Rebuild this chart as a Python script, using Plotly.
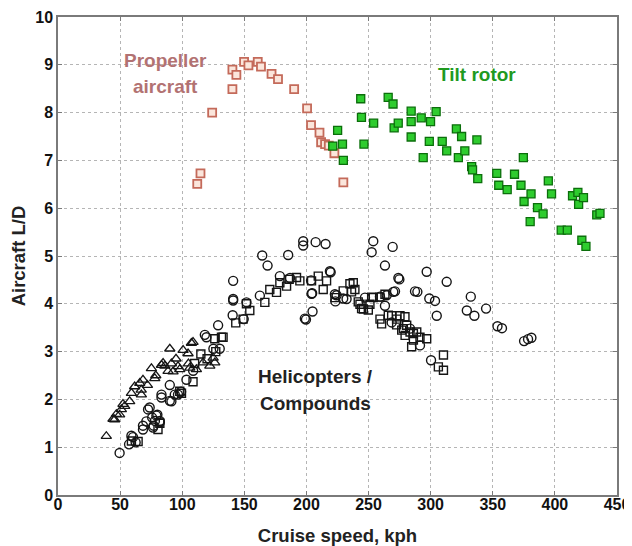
import plotly.graph_objects as go

# Propeller aircraft
prop_x = [112.1, 114.7, 124.1, 140.4, 143.6, 140.4, 149.8, 153.3, 160.8, 163.4, 171.9, 177.1,
          190.1, 200.5, 203.7, 210.5, 211.8, 215.0, 218.0, 222.5, 229.7]
prop_y = [6.51, 6.73, 8.00, 8.90, 8.79, 8.49, 9.06, 8.99, 9.06, 8.96, 8.81, 8.70,
          8.49, 8.09, 7.74, 7.58, 7.38, 7.34, 7.31, 7.15, 6.54]

# Tilt rotor
tilt_x = [221.2, 225.1, 229.0, 229.7, 243.7, 244.3, 246.3, 254.1, 265.8, 269.7, 270.6, 273.9,
          284.3, 284.3, 284.3, 292.4, 294.0, 299.9, 304.4, 298.9, 309.3, 312.9, 320.7, 324.9,
          322.3, 327.5, 337.2, 333.0, 333.7, 337.9, 353.2, 354.8, 361.6, 367.5, 374.6, 372.7,
          375.2, 380.8, 380.1, 386.0, 390.5, 394.7, 397.3, 405.1, 410.0, 414.2, 418.5, 419.1,
          423.0, 421.7, 425.0, 433.7, 436.3]
tilt_y = [7.30, 7.63, 7.34, 7.00, 8.29, 7.90, 7.34, 7.78, 8.32, 8.18, 7.68, 7.78,
          8.03, 7.81, 7.49, 7.89, 7.06, 7.81, 8.02, 7.40, 7.40, 7.20, 7.66, 7.50,
          7.06, 7.20, 7.43, 6.87, 6.80, 6.62, 6.73, 6.48, 6.39, 6.71, 7.06, 6.48,
          6.14, 6.30, 5.72, 6.01, 5.88, 6.57, 6.30, 5.54, 5.54, 6.26, 6.33, 6.08,
          6.22, 5.33, 5.20, 5.86, 5.89]

# Helicopters / compounds: circles
heli_c_x = [49.6, 57.2, 60.4, 62.5, 68.4, 71.1, 72.5, 75.8, 78.0, 80.0, 82.0, 77.0, 83.3, 90.0,
            91.3, 94.0, 99.1, 103.4, 108.8, 119.5, 128.9, 130.2, 125.1, 141.0, 141.0, 141.0,
            140.6, 149.5, 151.7, 162.5, 164.4, 168.7, 185.3, 186.8, 178.6, 197.4, 197.4, 207.4,
            215.4, 219.5, 204.6, 204.9, 199.6, 203.7, 223.3, 222.9, 232.3, 247.1, 253.8, 252.5,
            269.4, 263.2, 274.8, 269.9, 259.2, 263.2, 268.6, 296.8, 312.9, 289.3, 298.9, 303.5,
            304.9, 332.3, 329.1, 335.2, 344.6, 353.8, 357.4, 375.2, 378.4, 381.1, 300.3, 283.4,
            291.4, 90.0, 83.3, 96.6, 73.8, 79.2, 81.9, 68.4, 76.5, 59.1, 118.2, 218.9, 204.1,
            198.7, 274.0, 271.3, 287.4, 264.6, 224.3, 229.6]
heli_c_y = [0.88, 1.06, 1.21, 1.10, 1.37, 1.54, 1.79, 1.62, 1.55, 1.68, 1.52, 1.45, 2.10, 2.30,
            1.96, 2.10, 2.16, 2.41, 2.60, 3.30, 3.55, 3.06, 3.06, 4.48, 4.07, 4.10, 3.76, 3.68,
            4.03, 4.17, 5.01, 4.80, 5.02, 4.54, 4.58, 5.31, 5.22, 5.29, 5.25, 4.66, 4.22, 3.84,
            3.67, 4.49, 4.05, 4.20, 4.10, 4.13, 5.31, 5.08, 5.19, 4.80, 4.51, 4.25, 4.15, 3.96,
            3.61, 4.67, 4.46, 4.25, 4.11, 4.06, 3.75, 4.15, 3.86, 3.75, 3.90, 3.53, 3.49, 3.22,
            3.26, 3.29, 2.82, 3.48, 3.13, 1.97, 2.04, 2.10, 1.83, 1.66, 1.55, 1.45, 1.41, 1.24,
            3.35, 4.68, 4.21, 3.69, 4.54, 4.26, 4.26, 4.18, 4.18, 4.11]

# Helicopters / compounds: squares
heli_s_x = [59.1, 64.5, 80.5, 82.0, 99.4, 108.7, 110.0, 115.0, 120.0, 126.2, 127.0, 131.6,
            132.9, 143.1, 149.0, 151.7, 154.4, 166.5, 170.5, 175.9, 178.6, 184.0, 186.1, 192.0,
            194.7, 204.1, 209.5, 213.5, 216.2, 222.9, 229.6, 237.7, 239.0, 243.1, 245.8, 251.1,
            253.8, 259.2, 260.5, 263.2, 268.6, 272.6, 275.3, 278.0, 279.4, 280.7, 283.4, 284.7,
            286.1, 288.8, 291.4, 296.8, 306.2, 310.3, 310.3, 98.0, 235.0, 236.3, 244.4, 249.8,
            252.5, 259.2, 265.9, 272.6, 279.3, 276.7, 286.1, 241.7]
heli_s_y = [1.13, 1.12, 1.37, 1.50, 2.13, 2.37, 2.75, 2.95, 2.85, 3.27, 3.00, 3.30,
            3.30, 3.60, 3.68, 4.00, 3.86, 4.03, 4.30, 4.24, 4.44, 4.37, 4.51, 4.55,
            4.48, 4.48, 4.58, 4.30, 4.48, 4.13, 4.27, 4.44, 4.30, 3.99, 3.89, 3.99,
            4.13, 3.68, 3.58, 4.20, 3.75, 3.68, 3.75, 3.48, 3.34, 3.55, 3.41, 3.10,
            3.24, 3.41, 3.30, 3.27, 2.68, 2.93, 2.61, 2.17, 4.42, 4.25, 3.90, 3.87,
            4.14, 4.14, 3.76, 3.56, 3.73, 3.45, 3.38, 4.04]

# Helicopters / compounds: triangles
heli_t_x = [38.9, 45.6, 49.6, 51.0, 53.7, 57.7, 59.1, 61.7, 65.8, 67.1, 68.4, 75.2, 77.9, 78.7,
            83.3, 90.0, 91.3, 92.6, 98.0, 100.7, 104.7, 108.7, 111.4, 116.8, 122.2, 126.2, 124.9,
            105.0, 95.0, 86.0, 72.0, 107.4, 84.6, 88.6, 96.6, 106.1, 52.3, 47.0, 44.3, 67.0]
heli_t_y = [1.23, 1.58, 1.68, 1.79, 1.86, 1.96, 2.13, 2.27, 2.34, 2.10, 2.41, 2.65, 2.44, 2.50,
            2.72, 3.06, 2.75, 2.58, 2.63, 3.03, 2.96, 3.20, 2.63, 2.77, 2.70, 2.77, 2.87,
            2.75, 2.85, 2.70, 2.30, 3.18, 2.76, 2.59, 2.69, 2.66, 1.90, 1.69, 1.59, 2.20]

x_ticks = [0, 50, 100, 150, 200, 250, 300, 350, 400, 450]
y_ticks = [0, 1, 2, 3, 4, 5, 6, 7, 8, 9, 10]

fig = go.Figure()
fig.add_trace(go.Scatter(x=heli_c_x, y=heli_c_y, mode="markers",
                         marker=dict(symbol="circle-open", size=9, color="#151515", line=dict(width=1.4))))
fig.add_trace(go.Scatter(x=heli_s_x, y=heli_s_y, mode="markers",
                         marker=dict(symbol="square-open", size=8, color="#151515", line=dict(width=1.4))))
fig.add_trace(go.Scatter(x=heli_t_x, y=heli_t_y, mode="markers",
                         marker=dict(symbol="triangle-up-open", size=9, color="#151515", line=dict(width=1.3))))
fig.add_trace(go.Scatter(x=prop_x, y=prop_y, mode="markers",
                         marker=dict(symbol="square", size=8, color="#fbe6dc",
                                     line=dict(color="#c46a5a", width=1.8))))
fig.add_trace(go.Scatter(x=tilt_x, y=tilt_y, mode="markers",
                         marker=dict(symbol="square", size=8, color="#2ecc2e",
                                     line=dict(color="#0b6e0b", width=1.3))))

ann_font = dict(family="Liberation Sans", size=19)
fig.add_annotation(x=86.7, y=9.08, text="<b>Propeller</b>", showarrow=False,
                   font=dict(ann_font, color="#b27272"))
fig.add_annotation(x=86.7, y=8.54, text="<b>aircraft</b>", showarrow=False,
                   font=dict(ann_font, color="#b27272"))
fig.add_annotation(x=337.2, y=8.79, text="<b>Tilt rotor</b>", showarrow=False,
                   font=dict(ann_font, color="#1f9a1f"))
fig.add_annotation(x=207.3, y=2.47, text="<b>Helicopters /</b>", showarrow=False,
                   font=dict(ann_font, color="#222222"))
fig.add_annotation(x=207.3, y=1.92, text="<b>Compounds</b>", showarrow=False,
                   font=dict(ann_font, color="#222222"))

axis_common = dict(showline=True, mirror="ticks", linecolor="#7a7a7a", linewidth=1.5,
                   showgrid=True, gridcolor="#b5b5b5", griddash="dot", gridwidth=1,
                   zeroline=False, ticks="inside", ticklen=4, tickcolor="#7a7a7a",
                   automargin=False, ticklabeloverflow="allow",
                   tickfont=dict(family="Liberation Sans", size=16, color="#111111", weight="bold"))

fig.update_layout(
    width=624, height=538,
    margin=dict(l=50, r=15, t=9, b=51),
    paper_bgcolor="white", plot_bgcolor="white",
    showlegend=False,
    font=dict(family="Liberation Sans"),
    xaxis=dict(range=[0, 450], tickvals=x_ticks, ticklabelstandoff=-6,
               title=dict(text="<b>Cruise speed, kph</b>", font=dict(size=18.5, color="#222222"), standoff=20),
               **axis_common),
    yaxis=dict(range=[0, 10], tickvals=y_ticks,
               title=dict(text="<b>Aircraft L/D</b>", font=dict(size=18.5, color="#222222"), standoff=18),
               **axis_common),
)

fig.write_html("out.html")
